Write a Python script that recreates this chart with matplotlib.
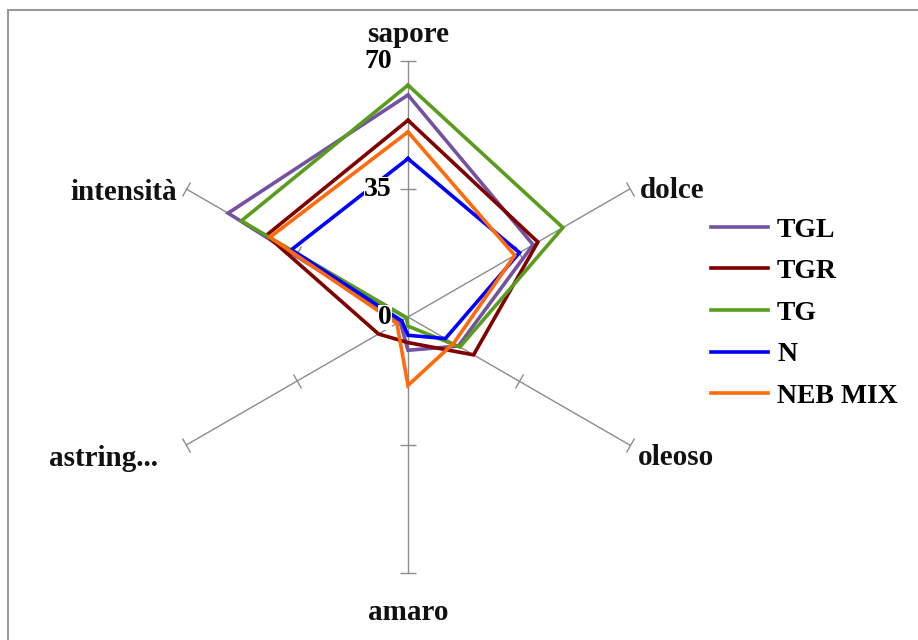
import numpy as np
import matplotlib
matplotlib.use("Agg")
import matplotlib.pyplot as plt
from matplotlib.markers import MarkerStyle
from matplotlib.transforms import Affine2D
from matplotlib.patches import Rectangle

categories = ['sapore', 'dolce', 'oleoso', 'amaro', 'astring...', 'intensità']
series_names = ['TGL', 'TGR', 'TG', 'N', 'NEB MIX']
TGL = [60.7, 39.5, 15.9, 9.1, 2.5, 56.8]
TGR = [53.8, 41.0, 20.7, 7.0, 9.3, 44.7]
TG = [63.4, 48.9, 16.4, 2.5, 0.5, 52.6]
N = [43.3, 35.2, 11.8, 5.0, 2.0, 36.8]
NEB_MIX = [50.6, 33.7, 14.4, 18.7, 3.5, 43.6]
series_values = [TGL, TGR, TG, N, NEB_MIX]
colors = ['#7352A2', '#800000', '#5A9C1E', '#0000FF', '#FF6A0A']
tick_values = [0, 35, 70]
rmax = 70

W, H = 918, 640
fig = plt.figure(figsize=(W / 100, H / 100), dpi=100)
fig.patch.set_facecolor('white')
plt.rcParams['font.family'] = ['Liberation Serif', 'DejaVu Serif']

# outer border
fig.patches.append(Rectangle((7.5 / W, -0.1), 1.2, 1 - 10.5 / H + 0.1,
                             transform=fig.transFigure, fill=False,
                             edgecolor='#9a9a9a', lw=1.5, zorder=0))

cx, cy, R = 408, 317, 256
ax = fig.add_axes([(cx - R) / W, (H - cy - R) / H, 2 * R / W, 2 * R / H],
                  projection='polar')
ax.set_theta_zero_location('N')
ax.set_theta_direction(-1)
ax.set_ylim(0, rmax)
ax.grid(False)
ax.set_xticks([])
ax.set_yticks([])
ax.spines['polar'].set_visible(False)
ax.patch.set_visible(False)

n = len(categories)
angles = np.arange(n) * 2 * np.pi / n

# spokes with perpendicular tick marks
for i, a in enumerate(angles):
    ax.plot([a, a], [0, rmax], color='#8c8c8c', lw=1.0, zorder=1, clip_on=False)
    disp_angle = 90 - np.degrees(a)
    ms = MarkerStyle('_', transform=Affine2D().rotate_deg(disp_angle + 90))
    ax.plot([a, a], [35, 70], ls='none', marker=ms, markersize=11.5,
            markeredgecolor='#8c8c8c', markeredgewidth=1.0, zorder=1,
            clip_on=False)

# data polygons
for name, vals, col in zip(series_names, series_values, colors):
    th = np.concatenate([angles, angles[:1]])
    rv = np.concatenate([vals, vals[:1]])
    ax.plot(th, rv, color=col, lw=2.6, label=name, zorder=3,
            solid_joinstyle='miter', clip_on=False)

# radial value labels
for v in tick_values:
    ax.annotate(str(v), xy=(0, v), xytext=(-16, 0), textcoords='offset pixels',
                ha='right', va='center', fontsize=20, fontweight='bold',
                bbox=dict(facecolor='white', edgecolor='none', pad=0.0),
                zorder=5, annotation_clip=False)

# category labels
offsets = [(0, 26, 'center'), (10, -1, 'left'), (8, -13, 'left'),
           (0, -40, 'center'), (-28, -13, 'right'), (-9, -3, 'right')]
for a, lab, (dx, dy, ha) in zip(angles, categories, offsets):
    ax.annotate(lab, xy=(a, rmax), xytext=(dx, dy), textcoords='offset pixels',
                ha=ha, va='center', fontsize=21, fontweight='bold',
                color='#111111', annotation_clip=False)

fig.legend(loc='center left', bbox_to_anchor=(711 / W, 1 - 313 / H),
           frameon=False, borderpad=0, borderaxespad=0,
           prop=dict(family='Liberation Serif', weight='bold', size=20),
           handlelength=2.05, handletextpad=0.33, labelspacing=0.58)

fig.savefig('out.png', dpi=100, facecolor='white')
